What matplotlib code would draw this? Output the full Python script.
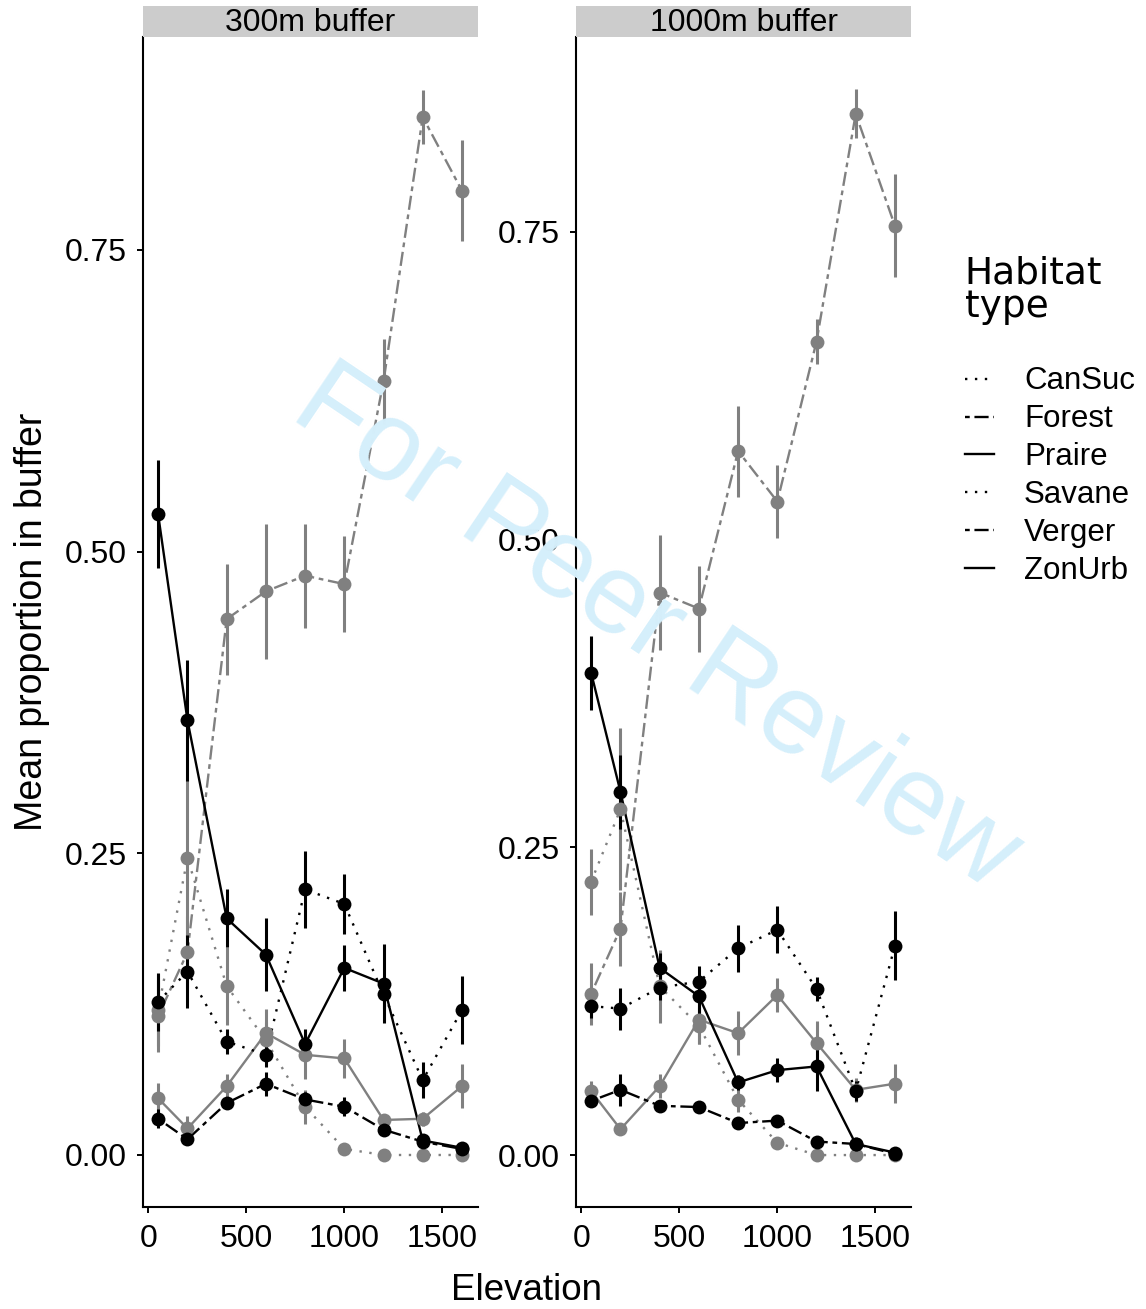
import matplotlib
matplotlib.use('Agg')
import matplotlib.pyplot as plt
from matplotlib.lines import Line2D

plt.rcParams['font.family'] = ['Liberation Sans', 'DejaVu Sans']

# ---------------- data ----------------
elev = [50, 200, 400, 600, 800, 1000, 1200, 1400, 1600]
habitats = ['CanSuc', 'Forest', 'Praire', 'Savane', 'Verger', 'ZonUrb']
panels = ['300m buffer', '1000m buffer']

# 300 m buffer: mean and half error bar
m300_cansuc = [0.120, 0.246, 0.140, 0.095, 0.040, 0.005, 0.000, 0.000, 0.000]
e300_cansuc = [0.030, 0.065, 0.032, 0.015, 0.014, 0.002, 0.001, 0.001, 0.001]
m300_forest = [0.115, 0.168, 0.444, 0.467, 0.480, 0.473, 0.641, 0.860, 0.799]
e300_forest = [0.030, 0.030, 0.046, 0.056, 0.043, 0.040, 0.035, 0.022, 0.042]
m300_praire = [0.047, 0.022, 0.057, 0.101, 0.083, 0.080, 0.029, 0.030, 0.057]
e300_praire = [0.013, 0.010, 0.010, 0.020, 0.020, 0.016, 0.004, 0.006, 0.018]
m300_savane = [0.127, 0.152, 0.094, 0.083, 0.220, 0.208, 0.133, 0.062, 0.120]
e300_savane = [0.024, 0.030, 0.010, 0.010, 0.032, 0.025, 0.012, 0.015, 0.028]
m300_verger = [0.030, 0.013, 0.043, 0.059, 0.046, 0.040, 0.021, 0.011, 0.005]
e300_verger = [0.008, 0.004, 0.005, 0.010, 0.006, 0.008, 0.004, 0.003, 0.002]
m300_zonurb = [0.531, 0.360, 0.196, 0.166, 0.092, 0.155, 0.142, 0.012, 0.006]
e300_zonurb = [0.045, 0.050, 0.024, 0.030, 0.012, 0.019, 0.033, 0.004, 0.002]

# 1000 m buffer
m1000_cansuc = [0.222, 0.281, 0.137, 0.105, 0.045, 0.010, 0.000, 0.000, 0.000]
e1000_cansuc = [0.027, 0.066, 0.030, 0.015, 0.010, 0.003, 0.001, 0.001, 0.001]
m1000_forest = [0.131, 0.184, 0.457, 0.444, 0.572, 0.531, 0.661, 0.846, 0.755]
e1000_forest = [0.025, 0.030, 0.047, 0.035, 0.037, 0.030, 0.018, 0.020, 0.042]
m1000_praire = [0.052, 0.021, 0.056, 0.110, 0.099, 0.130, 0.091, 0.053, 0.058]
e1000_praire = [0.008, 0.004, 0.010, 0.020, 0.018, 0.014, 0.018, 0.010, 0.016]
m1000_savane = [0.121, 0.119, 0.136, 0.141, 0.168, 0.183, 0.135, 0.052, 0.170]
e1000_savane = [0.010, 0.017, 0.010, 0.013, 0.019, 0.019, 0.010, 0.008, 0.028]
m1000_verger = [0.044, 0.053, 0.040, 0.039, 0.026, 0.028, 0.011, 0.009, 0.001]
e1000_verger = [0.005, 0.013, 0.005, 0.004, 0.004, 0.004, 0.003, 0.003, 0.001]
m1000_zonurb = [0.392, 0.295, 0.152, 0.129, 0.059, 0.069, 0.072, 0.009, 0.002]
e1000_zonurb = [0.030, 0.030, 0.012, 0.015, 0.006, 0.010, 0.020, 0.003, 0.001]

means = [[m300_cansuc, m300_forest, m300_praire, m300_savane, m300_verger, m300_zonurb],
         [m1000_cansuc, m1000_forest, m1000_praire, m1000_savane, m1000_verger, m1000_zonurb]]
errs = [[e300_cansuc, e300_forest, e300_praire, e300_savane, e300_verger, e300_zonurb],
        [e1000_cansuc, e1000_forest, e1000_praire, e1000_savane, e1000_verger, e1000_zonurb]]

# ---------------- styles ----------------
dotted = (0, (1, 3.2))
twodash = (0, (2, 2, 6, 2))
colors = ['#808080', '#808080', '#808080', 'black', 'black', 'black']
styles = [dotted, twodash, '-', dotted, twodash, '-']
ylims = [(-0.0431, 0.9263), (-0.0422, 0.9084)]

fig = plt.figure(figsize=(11.46, 13.09), dpi=100)
W, H = 1146, 1309
lefts = [143, 576]

for p in range(2):
    ax = fig.add_axes([lefts[p]/W, (H-1207)/H, 335/W, 1170/H])
    for k in range(6):
        c = colors[k]
        ax.plot(elev, means[p][k], color=c, ls=styles[k], lw=1.7, zorder=2)
        ax.errorbar(elev, means[p][k], yerr=errs[p][k], fmt='none',
                    ecolor=c, elinewidth=2.2, capsize=0, zorder=3)
        ax.plot(elev, means[p][k], 'o', color=c, ms=10, mec='none', zorder=4)
    ax.set_xlim(-27, 1682)
    ax.set_ylim(*ylims[p])
    ax.set_xticks([0, 500, 1000, 1500])
    ax.set_yticks([0, 0.25, 0.5, 0.75])
    ax.set_yticklabels(['0.00', '0.25', '0.50', '0.75'])
    for s in ['top', 'right']:
        ax.spines[s].set_visible(False)
    for s in ['left', 'bottom']:
        ax.spines[s].set_linewidth(1.5)
    ax.tick_params(direction='out', length=4.5, width=1.4, labelsize=23)
    ax.tick_params(axis='y', pad=7)
    ax.tick_params(axis='x', pad=8)
    # facet strip
    sax = fig.add_axes([lefts[p]/W, (H-37)/H, 335/W, 31/H])
    sax.set_facecolor('#cccccc')
    sax.set_xticks([]); sax.set_yticks([])
    for s in sax.spines.values():
        s.set_visible(False)
    sax.text(0.5, 0.45, panels[p], ha='center', va='center', fontsize=23,
             transform=sax.transAxes)

fig.text(32/W, 1-622/H, 'Mean proportion in buffer', rotation=90,
         ha='center', va='center', fontsize=27)
fig.text(527/W, 1-1290/H, 'Elevation', ha='center', va='center', fontsize=26.5)

# legend (linetype only)
handles = [Line2D([], [], color='black', ls=styles[k], lw=1.7) for k in range(6)]
leg = fig.legend(handles, habitats, loc='upper left',
                 bbox_to_anchor=(949/W, 1-240/H), frameon=False,
                 fontsize=22.5, handlelength=0.95, handletextpad=0.95,
                 labelspacing=0.255, borderpad=0, alignment='left',
                 title='Habitat\ntype')
leg.get_title().set_fontfamily('DejaVu Sans')
leg.get_title().set_fontsize(27)
leg.get_title().set_linespacing(0.9)
leg._legend_box.sep = 30

# watermark
fig.text(655/W, 1-630/H, 'For Peer Review', rotation=-34, ha='center',
         va='center', fontsize=82, color='#d5effb', zorder=10)

fig.savefig('out.png', dpi=100)
